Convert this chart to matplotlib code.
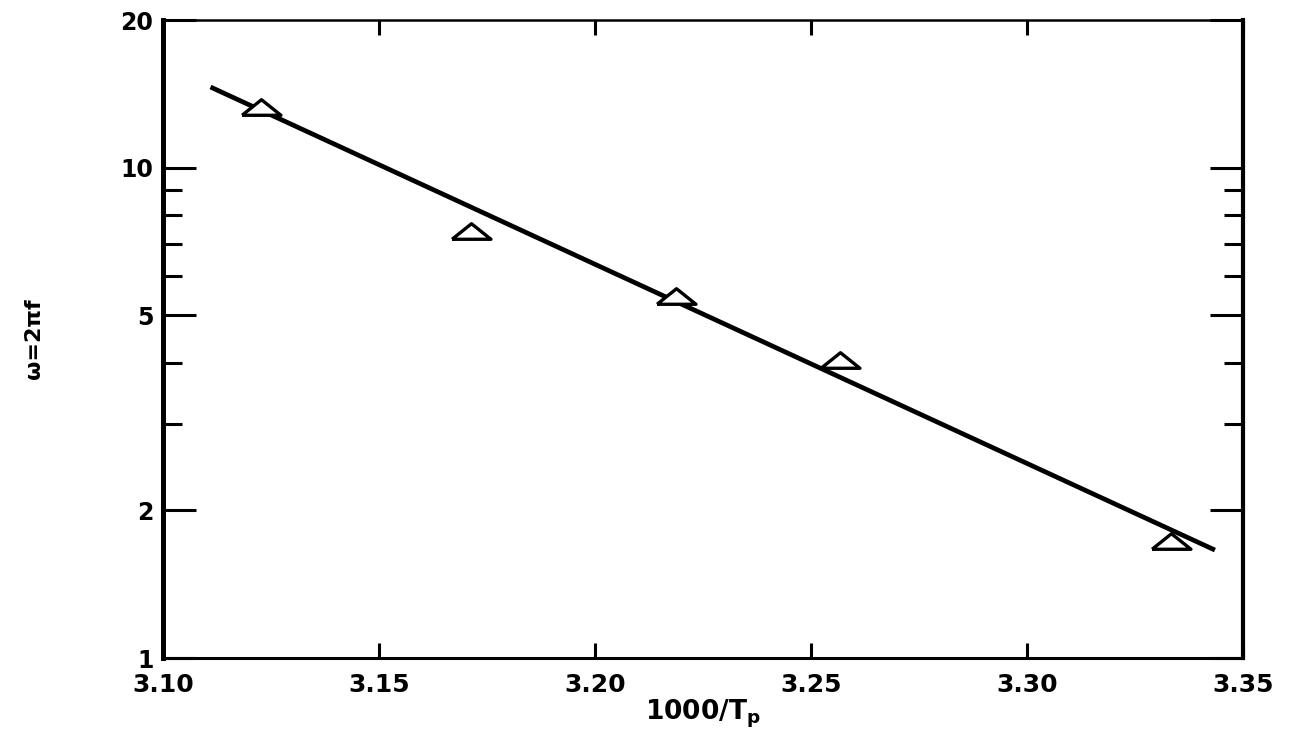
import numpy as np
import matplotlib
matplotlib.use('Agg')
import matplotlib.pyplot as plt
from matplotlib.ticker import FixedLocator, FixedFormatter, NullFormatter

# measured points (open triangles)
inv_tp = [3.1226, 3.1712, 3.2188, 3.2567, 3.3333]
omega = [13.3, 7.42, 5.47, 4.05, 1.73]

# fitted straight line (end points)
fit_x = [3.111, 3.3435]
fit_y = [14.6, 1.66]

xticks = [3.10, 3.15, 3.20, 3.25, 3.30, 3.35]
xtick_labels = ['3.10', '3.15', '3.20', '3.25', '3.30', '3.35']
yticks = [1, 2, 5, 10, 20]
ytick_labels = ['1', '2', '5', '10', '20']
yminor = [3, 4, 6, 7, 8, 9]

plt.rcParams['font.family'] = ['DejaVu Sans']
plt.rcParams['font.weight'] = 'bold'

fig = plt.figure(figsize=(12.92, 7.33), dpi=100)
ax = fig.add_axes([163/1292, 1-658/733, (1243-163)/1292, (658-20)/733])

ax.plot(fit_x, fit_y, color='black', lw=3.4, solid_capstyle='butt', zorder=2)

tri = [(-1, -0.4), (1, -0.4), (0, 0.4), (-1, -0.4)]
ax.plot(inv_tp, omega, linestyle='none', marker=tri, markersize=28,
        markerfacecolor='white', markeredgecolor='black', markeredgewidth=2.4, zorder=3)

ax.set_yscale('log')
ax.set_xlim(3.10, 3.35)
ax.set_ylim(1, 20)

ax.xaxis.set_major_locator(FixedLocator(xticks))
ax.xaxis.set_major_formatter(FixedFormatter(xtick_labels))
ax.yaxis.set_major_locator(FixedLocator(yticks))
ax.yaxis.set_major_formatter(FixedFormatter(ytick_labels))
ax.yaxis.set_minor_locator(FixedLocator(yminor))
ax.yaxis.set_minor_formatter(NullFormatter())
ax.xaxis.set_minor_locator(FixedLocator([]))

ax.tick_params(axis='x', which='major', direction='in', top=True, length=11, width=2.2,
               labelsize=18, pad=11)
ax.tick_params(axis='y', which='major', direction='in', right=True, length=24, width=2.2,
               labelsize=17, pad=7)
ax.tick_params(axis='y', which='minor', direction='in', right=True, length=14, width=2.2)

ax.spines['left'].set_linewidth(3.6)
ax.spines['right'].set_linewidth(3.0)
ax.spines['bottom'].set_linewidth(2.2)
ax.spines['top'].set_linewidth(1.8)

ax.set_xlabel('1000/T$_\\mathbf{p}$', fontsize=19, fontweight='bold', labelpad=0)
ax.set_ylabel('ω=2πf', fontsize=16, fontweight='bold', labelpad=55)

fig.savefig('out.png', dpi=100)
